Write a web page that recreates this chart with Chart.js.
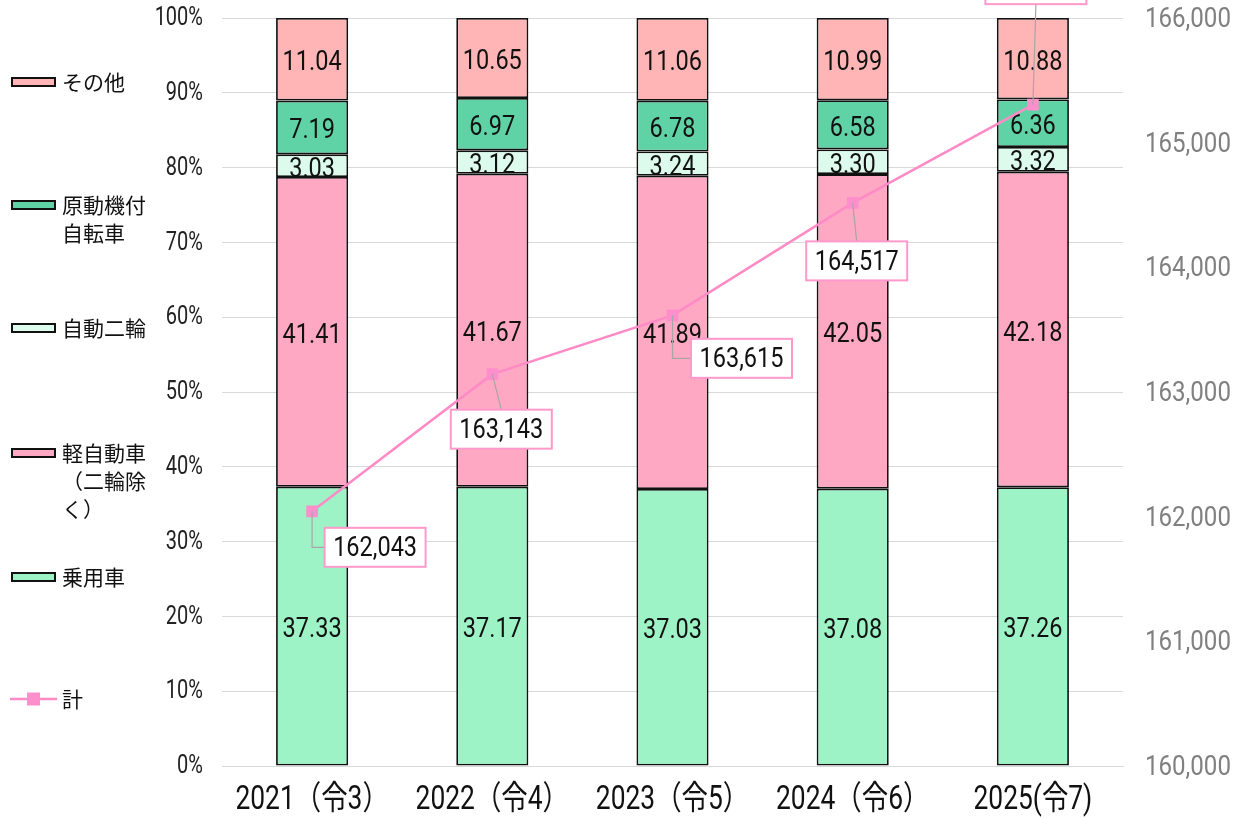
<!DOCTYPE html>
<html>
<head>
<meta charset="utf-8">
<script src="https://cdn.jsdelivr.net/npm/chart.js@4"></script>
<style>
  html, body { margin: 0; padding: 0; background: #fff; }
  #wrap { width: 1241px; height: 819px; }
</style>
</head>
<body>
<div id="wrap"><canvas id="vehicleChart" width="1241" height="819"></canvas></div>
<script>
// categories
var years = ['2021（令3）', '2022（令4）', '2023（令5）', '2024（令6）', '2025(令7)'];
// shares (%) by vehicle type
var passenger = [37.33, 37.17, 37.03, 37.08, 37.26];   // 乗用車
var keiCar = [41.41, 41.67, 41.89, 42.05, 42.18];      // 軽自動車（二輪除く）
var motorcycle = [3.03, 3.12, 3.24, 3.30, 3.32];       // 自動二輪
var moped = [7.19, 6.97, 6.78, 6.58, 6.36];            // 原動機付自転車
var other = [11.04, 10.65, 11.06, 10.99, 10.88];       // その他
// total count
var totals = [162043, 163143, 163615, 164517, 165305]; // 計
// right axis ticks
var rightMin = 160000, rightMax = 166000, rightStep = 1000;

var numFont = 'Roboto, "Noto Sans CJK JP", sans-serif';
var jpFont = '"Noto Sans CJK JP", sans-serif';

// 100% stacked: scale each year's parts to their sum
var parts = [passenger, keiCar, motorcycle, moped, other];
var sums = years.map(function(_, i){ return parts.reduce(function(s, p){ return s + p[i]; }, 0); });
function share(arr){ return arr.map(function(v, i){ return v / sums[i] * 100; }); }

var barSets = [
    { label: '乗用車', raw: passenger, color: '#9df3c6' },
    { label: '軽自動車（二輪除く）', raw: keiCar, color: '#ffa8c4' },
    { label: '自動二輪', raw: motorcycle, color: '#dcfbec' },
    { label: '原動機付自転車', raw: moped, color: '#5fd3a5' },
    { label: 'その他', raw: other, color: '#ffb5b5' }
];
var lineColor = '#ff8ac6';

var datasets = barSets.map(function(b){
    return { type: 'bar', label: b.label, data: share(b.raw), raw: b.raw, backgroundColor: b.color,
             borderColor: '#111', borderWidth: 1.8, borderSkipped: false, order: 1, yAxisID: 'y',
             categoryPercentage: 1, barPercentage: 0.4 };
});
datasets.push({ type: 'line', label: '計', data: totals, yAxisID: 'y1', order: 0,
    borderColor: lineColor, borderWidth: 2.5, pointStyle: 'rect', pointRadius: 6.5,
    pointBackgroundColor: '#ff8fcc', pointBorderColor: '#ff8fcc', tension: 0 });

// label box offsets from each line point (px)
var labelOffsets = [[63, 36], [9, 55], [69, 43], [4, 58], [3, -120]];
var boxW = 101, boxH = 39;

// left-hand legend layout
var legendItems = [
    { lines: ['その他'], y: 82, color: '#ffb5b5' },
    { lines: ['原動機付', '自転車'], y: 205, color: '#5fd3a5' },
    { lines: ['自動二輪'], y: 328, color: '#dcfbec' },
    { lines: ['軽自動車', '（二輪除', 'く）'], y: 453, color: '#ffa8c4' },
    { lines: ['乗用車'], y: 577, color: '#9df3c6' },
    { lines: ['計'], y: 699, line: true }
];

// narrow number text (horizontally squeezed)
function narrowText(ctx, text, x, y, align, size, color, sx){
    ctx.save();
    ctx.font = size + 'px ' + numFont;
    ctx.fillStyle = color;
    ctx.textAlign = align;
    ctx.textBaseline = 'middle';
    ctx.translate(x, y);
    ctx.scale(sx || 0.8, 1);
    ctx.fillText(text, 0, 0);
    ctx.restore();
}

var labelPlugin = {
    id: 'labels',
    beforeDatasetDraw: function(chart, args){
        if (chart.data.datasets[args.index].type !== 'line') return;
        var ctx = chart.ctx;
        chart.data.datasets.forEach(function(ds, di){
            if (ds.type !== 'bar') return;
            chart.getDatasetMeta(di).data.forEach(function(el, i){
                var mid = (el.y + el.base) / 2;
                narrowText(ctx, ds.raw[i].toFixed(2), el.x, mid + 4, 'center', 28, '#111', 0.84);
            });
        });
    },
    afterDatasetsDraw: function(chart){
        var ctx = chart.ctx;
        var li = chart.data.datasets.length - 1;
        var pts = chart.getDatasetMeta(li).data;
        ctx.save();
        pts.forEach(function(p, i){
            var cx = p.x + labelOffsets[i][0], cy = p.y + labelOffsets[i][1];
            var left = cx - boxW / 2, top = cy - boxH / 2;
            ctx.strokeStyle = '#a6a6a6';
            ctx.lineWidth = 1.2;
            ctx.beginPath();
            ctx.moveTo(p.x, p.y);
            if (Math.abs(cx - p.x) > boxW / 2) {
                ctx.lineTo(p.x, cy);
                ctx.lineTo(left, cy);
            } else if (cy > p.y) {
                ctx.lineTo(cx, top);
            } else {
                ctx.lineTo(cx, top + boxH);
            }
            ctx.stroke();
            ctx.fillStyle = '#fff';
            ctx.fillRect(left, top, boxW, boxH);
            ctx.strokeStyle = '#ff99cc';
            ctx.lineWidth = 2;
            ctx.strokeRect(left, top, boxW, boxH);
            narrowText(ctx, totals[i].toLocaleString('en-US'), cx, cy + 2, 'center', 28, '#111', 0.84);
        });
        ctx.restore();
    },
    afterDraw: function(chart){
        var ctx = chart.ctx;
        // axis tick labels
        var sy = chart.scales.y, sr = chart.scales.y1, sxs = chart.scales.x;
        sy.ticks.forEach(function(t){
            narrowText(ctx, t.value + '%', sy.right - 19, sy.getPixelForValue(t.value) + 1, 'right', 25, '#222');
        });
        sr.ticks.forEach(function(t){
            narrowText(ctx, t.value.toLocaleString('en-US'), sr.left + 22, sr.getPixelForValue(t.value) + 2, 'left', 28, '#808080', 0.86);
        });
        sxs.ticks.forEach(function(t, i){
            narrowText(ctx, years[i], sxs.getPixelForTick(i), sxs.top + 35, 'center', 33, '#111', 0.8);
        });
        // legend
        ctx.save();
        ctx.font = '21px ' + jpFont;
        ctx.textBaseline = 'middle';
        ctx.textAlign = 'left';
        legendItems.forEach(function(it){
            if (it.line) {
                ctx.strokeStyle = lineColor;
                ctx.lineWidth = 2.5;
                ctx.beginPath();
                ctx.moveTo(10, it.y);
                ctx.lineTo(57, it.y);
                ctx.stroke();
                ctx.fillStyle = '#ff8fcc';
                ctx.fillRect(27, it.y - 6.5, 13, 13);
            } else {
                ctx.fillStyle = it.color;
                ctx.fillRect(12, it.y - 4, 43, 8);
                ctx.strokeStyle = '#111';
                ctx.lineWidth = 2;
                ctx.strokeRect(12, it.y - 4, 43, 8);
            }
            ctx.fillStyle = '#111';
            it.lines.forEach(function(t, k){
                ctx.fillText(t, 62, it.y + k * 28);
            });
        });
        ctx.restore();
    }
};

new Chart(document.getElementById('vehicleChart'), {
    data: { labels: years, datasets: datasets },
    options: {
        responsive: false,
        animation: false,
        layout: { padding: { left: 150, top: 18, right: 0, bottom: 0 } },
        plugins: { legend: { display: false }, tooltip: { enabled: false } },
        scales: {
            x: {
                stacked: true,
                grid: { display: false },
                border: { color: '#d9d9d9' },
                ticks: { display: false },
                afterFit: function(s){ s.height = 53; }
            },
            y: {
                stacked: true,
                min: 0, max: 100,
                ticks: { stepSize: 10, display: false },
                grid: { color: '#d9d9d9', lineWidth: 1, drawTicks: false },
                border: { display: false },
                afterFit: function(s){ s.width = 72; }
            },
            y1: {
                position: 'right',
                min: rightMin, max: rightMax,
                ticks: { stepSize: rightStep, display: false },
                grid: { display: false },
                border: { display: false },
                afterFit: function(s){ s.width = 118; }
            }
        }
    },
    plugins: [labelPlugin]
});
</script>
</body>
</html>
